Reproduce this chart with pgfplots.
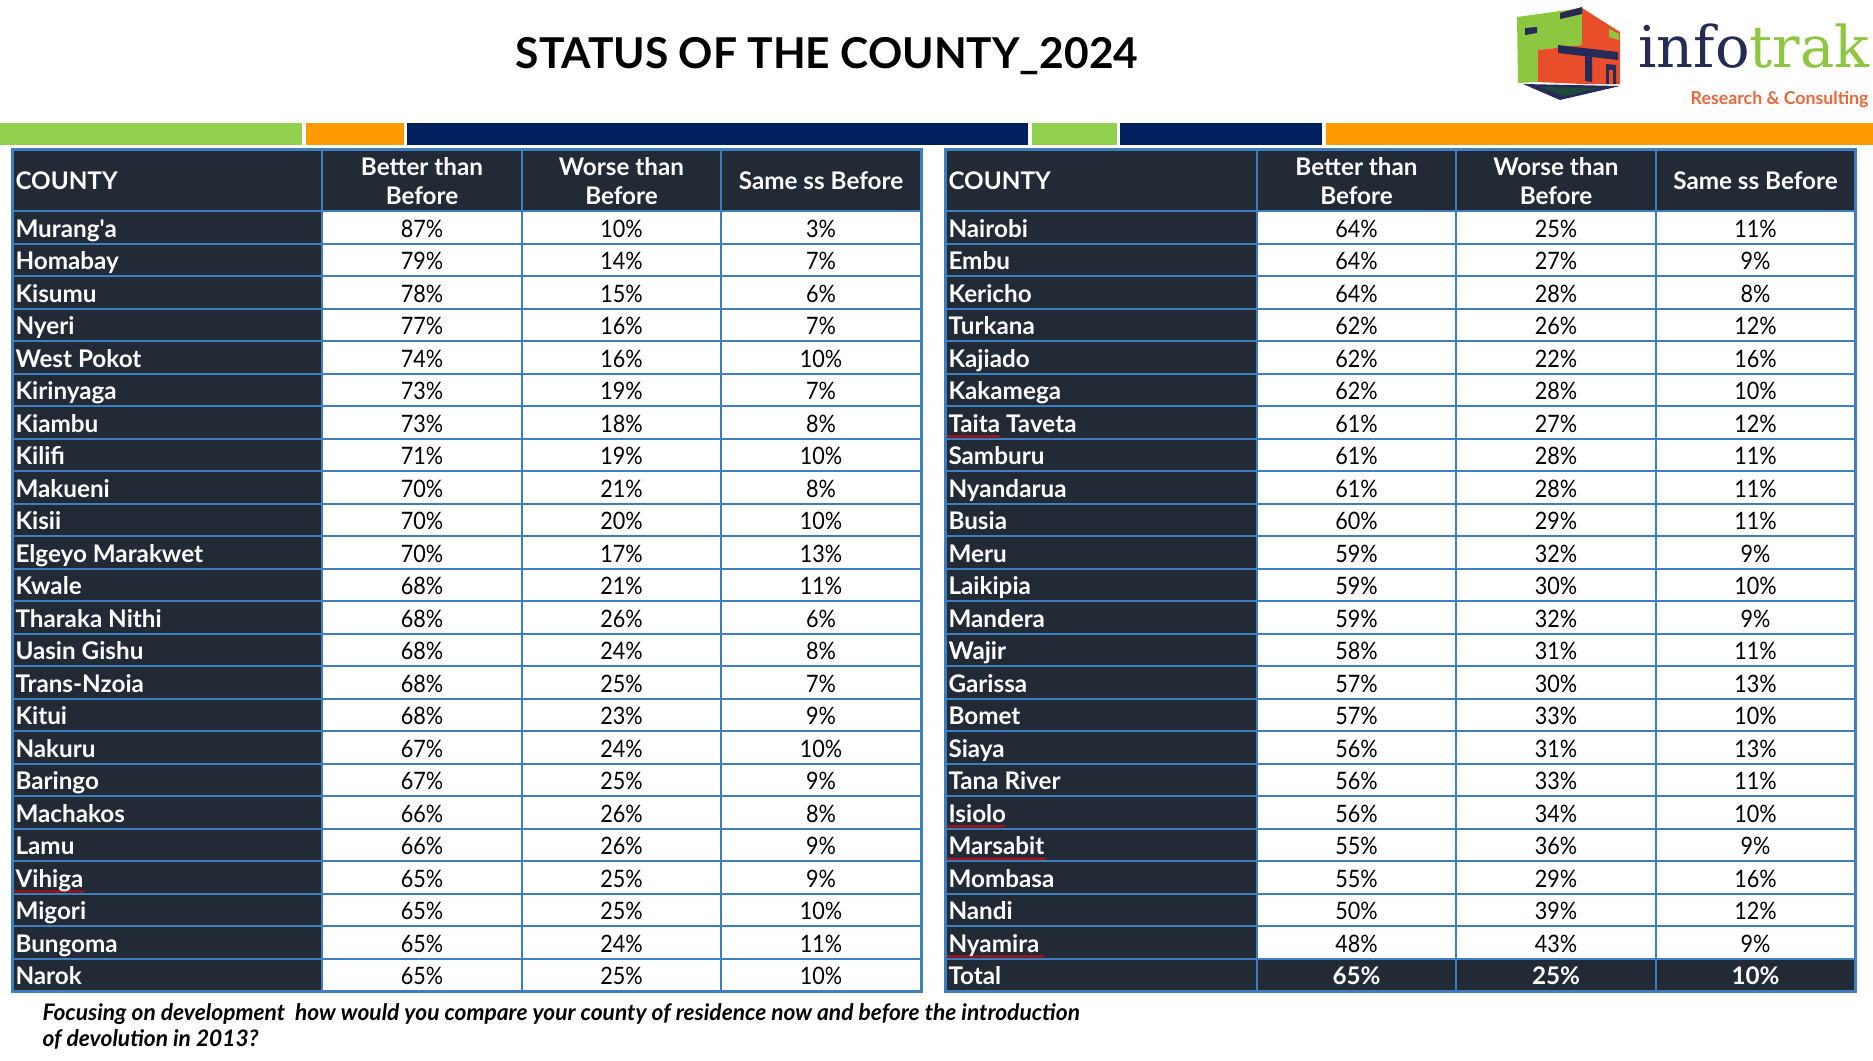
\documentclass[border=0pt]{standalone}
\usepackage{pgfplots}
\pgfplotsset{compat=1.18}
\usepackage{pgfplotstable}
\usetikzlibrary{decorations.pathmorphing}
\usepackage{fontspec}
\setmainfont{Lato}
\newfontfamily\numfont{Lato}[FakeStretch=0.9]
\newfontfamily\logofont{DejaVu Serif}

\definecolor{hdr}{HTML}{222A35}
\definecolor{gridc}{HTML}{3F7DC1}
\definecolor{bgreen}{HTML}{92D050}
\definecolor{borange}{HTML}{FF9900}
\definecolor{bnavy}{HTML}{002060}
\definecolor{lgreen}{HTML}{8DC63F}
\definecolor{lred}{HTML}{E94E2A}
\definecolor{lnavy}{HTML}{262A56}
\definecolor{ldkgreen}{HTML}{1F4A3A}
\definecolor{lorange}{HTML}{E8683C}

\pgfplotstableread[col sep=comma]{
county,better,worse,same
Murang\textquotesingle a,87,10,3
Homabay,79,14,7
Kisumu,78,15,6
Nyeri,77,16,7
West Pokot,74,16,10
Kirinyaga,73,19,7
Kiambu,73,18,8
Kilifi,71,19,10
Makueni,70,21,8
Kisii,70,20,10
Elgeyo Marakwet,70,17,13
Kwale,68,21,11
Tharaka Nithi,68,26,6
Uasin Gishu,68,24,8
Trans-Nzoia,68,25,7
Kitui,68,23,9
Nakuru,67,24,10
Baringo,67,25,9
Machakos,66,26,8
Lamu,66,26,9
Vihiga,65,25,9
Migori,65,25,10
Bungoma,65,24,11
Narok,65,25,10
}\lefttab

\pgfplotstableread[col sep=comma]{
county,better,worse,same
Nairobi,64,25,11
Embu,64,27,9
Kericho,64,28,8
Turkana,62,26,12
Kajiado,62,22,16
Kakamega,62,28,10
Taita Taveta,61,27,12
Samburu,61,28,11
Nyandarua,61,28,11
Busia,60,29,11
Meru,59,32,9
Laikipia,59,30,10
Mandera,59,32,9
Wajir,58,31,11
Garissa,57,30,13
Bomet,57,33,10
Siaya,56,31,13
Tana River,56,33,11
Isiolo,56,34,10
Marsabit,55,36,9
Mombasa,55,29,16
Nandi,50,39,12
Nyamira,48,43,9
}\righttab

\pgfplotstableread[col sep=comma]{
county,better,worse,same
Total,65,25,10
}\totaltab

\newcommand{\cellfont}{\numfont\fontsize{9.6}{11.6}\selectfont}
\newcommand{\boldfont}{\fontsize{9.7}{11.6}\selectfont\bfseries}

\pgfplotsset{
  txt/.style={only marks, mark=text, text mark={},
    point meta=explicit symbolic, nodes near coords,
    every node near coord/.append style={inner sep=0pt, font=\cellfont, text=black, anchor=base}},
  namecol/.style={txt, every node near coord/.append style={text=white, font=\boldfont, anchor=base west}},
  pct/.style={txt, nodes near coords={\pgfplotspointmeta\%}},
}

\begin{document}
\begin{tikzpicture}
\begin{axis}[width=749.2pt, height=424pt, scale only axis,
  xmin=0, xmax=1873, ymin=0, ymax=1060, y dir=reverse,
  hide axis, clip=false]

\fill[white] (axis cs:0,0) rectangle (axis cs:1873,1060);

% title
\node[anchor=base, font=\fontsize{17}{20}\selectfont\bfseries] at (axis cs:827,68) {STATUS OF THE COUNTY\_2024};

% colour bars
\fill[bgreen] (axis cs:0,123) rectangle (axis cs:302,145);
\fill[borange] (axis cs:306,123) rectangle (axis cs:404,145);
\fill[bnavy] (axis cs:407,123) rectangle (axis cs:1028,145);
\fill[bgreen] (axis cs:1032,123) rectangle (axis cs:1117,145);
\fill[bnavy] (axis cs:1120,123) rectangle (axis cs:1322,145);
\fill[borange] (axis cs:1326,123) rectangle (axis cs:1873,145);

% logo
\fill[lgreen] (axis cs:1517,17) -- (axis cs:1582,8) -- (axis cs:1582,45) -- (axis cs:1538,50) -- (axis cs:1538,82) -- (axis cs:1518,83) -- cycle;
\fill[lred] (axis cs:1582,8) -- (axis cs:1620,32) -- (axis cs:1620,84) -- (axis cs:1582,84) -- cycle;
\fill[lred] (axis cs:1538,50) -- (axis cs:1582,45) -- (axis cs:1582,84) -- (axis cs:1538,82) -- cycle;
\fill[lgreen] (axis cs:1609,29) -- (axis cs:1619,34) -- (axis cs:1619,40) -- (axis cs:1609,37) -- cycle;
\fill[lnavy] (axis cs:1560,13) -- (axis cs:1582,7) -- (axis cs:1582,14) -- (axis cs:1560,19) -- cycle;
\fill[lnavy] (axis cs:1525,28) -- (axis cs:1537,27) -- (axis cs:1537,33) -- (axis cs:1525,35) -- cycle;
\fill[lnavy] (axis cs:1558,45) -- (axis cs:1618,52) -- (axis cs:1618,60) -- (axis cs:1558,53) -- cycle;
\fill[lnavy] (axis cs:1585,56) -- (axis cs:1592,57) -- (axis cs:1592,82) -- (axis cs:1585,81) -- cycle;
\fill[lnavy] (axis cs:1606,64) -- (axis cs:1616,65) -- (axis cs:1616,84) -- (axis cs:1606,84) -- cycle;
\fill[lred] (axis cs:1609,70) -- (axis cs:1613,70) -- (axis cs:1613,84) -- (axis cs:1609,84) -- cycle;
\fill[lnavy] (axis cs:1523,84) -- (axis cs:1620,86) -- (axis cs:1560,100) -- cycle;
\fill[ldkgreen] (axis cs:1540,87) -- (axis cs:1600,88) -- (axis cs:1565,96) -- cycle;
\node[anchor=base west, inner sep=0pt, font=\logofont\fontsize{23}{26}\selectfont] at (axis cs:1638,67) {\textcolor{lnavy}{info}\textcolor{lgreen}{trak}};
\node[anchor=base east, inner sep=0pt, font=\fontsize{7.1}{8}\selectfont\bfseries, text=lorange] at (axis cs:1869,104) {Research \& Consulting};

% ---- left table frame
\fill[white] (axis cs:322,211) rectangle (axis cs:921,991);
\fill[hdr] (axis cs:12,149) rectangle (axis cs:921,211);
\fill[hdr] (axis cs:12,211) rectangle (axis cs:322,991);
\pgfplotsinvokeforeach{1,...,23}{\draw[gridc, line width=0.8pt] (axis cs:12,{211+32.5*#1}) -- (axis cs:921,{211+32.5*#1});}
\draw[gridc, line width=0.8pt] (axis cs:12,211) -- (axis cs:921,211);
\draw[gridc, line width=0.8pt] (axis cs:322,149) -- (axis cs:322,991);
\draw[gridc, line width=0.8pt] (axis cs:522,149) -- (axis cs:522,991);
\draw[gridc, line width=0.8pt] (axis cs:721,149) -- (axis cs:721,991);
\draw[gridc, line width=1.2pt] (axis cs:12,149) rectangle (axis cs:921,991);

% ---- right table frame
\fill[white] (axis cs:1257,211) rectangle (axis cs:1855,991);
\fill[hdr] (axis cs:945,149) rectangle (axis cs:1855,211);
\fill[hdr] (axis cs:945,211) rectangle (axis cs:1257,991);
\fill[hdr] (axis cs:945,958.5) rectangle (axis cs:1855,991);
\pgfplotsinvokeforeach{1,...,23}{\draw[gridc, line width=0.8pt] (axis cs:945,{211+32.5*#1}) -- (axis cs:1855,{211+32.5*#1});}
\draw[gridc, line width=0.8pt] (axis cs:945,211) -- (axis cs:1855,211);
\draw[gridc, line width=0.8pt] (axis cs:1257,149) -- (axis cs:1257,991);
\draw[gridc, line width=0.8pt] (axis cs:1456,149) -- (axis cs:1456,991);
\draw[gridc, line width=0.8pt] (axis cs:1656,149) -- (axis cs:1656,991);
\draw[gridc, line width=1.2pt] (axis cs:945,149) rectangle (axis cs:1855,991);

% headers
\node[anchor=west, inner sep=0pt, text=white, font=\boldfont] at (axis cs:15,181) {COUNTY};
\node[align=center, inner sep=0pt, text=white, font=\boldfont] at (axis cs:422,181) {Better than\\Before};
\node[align=center, inner sep=0pt, text=white, font=\boldfont] at (axis cs:621.5,181) {Worse than\\Before};
\node[align=center, inner sep=0pt, text=white, font=\boldfont] at (axis cs:821,181) {Same ss Before};
\node[anchor=west, inner sep=0pt, text=white, font=\boldfont] at (axis cs:948,181) {COUNTY};
\node[align=center, inner sep=0pt, text=white, font=\boldfont] at (axis cs:1356.5,181) {Better than\\Before};
\node[align=center, inner sep=0pt, text=white, font=\boldfont] at (axis cs:1556,181) {Worse than\\Before};
\node[align=center, inner sep=0pt, text=white, font=\boldfont] at (axis cs:1755.5,181) {Same ss Before};

% left table data
\addplot[namecol] table[x expr=15, y expr={211+32.5*(\coordindex+0.5)+10}, meta=county] {\lefttab};
\addplot[pct] table[x expr=422, y expr={211+32.5*(\coordindex+0.5)+10}, meta=better] {\lefttab};
\addplot[pct] table[x expr=621.5, y expr={211+32.5*(\coordindex+0.5)+10}, meta=worse] {\lefttab};
\addplot[pct] table[x expr=821, y expr={211+32.5*(\coordindex+0.5)+10}, meta=same] {\lefttab};

% right table data
\addplot[namecol] table[x expr=948, y expr={211+32.5*(\coordindex+0.5)+10}, meta=county] {\righttab};
\addplot[pct] table[x expr=1356.5, y expr={211+32.5*(\coordindex+0.5)+10}, meta=better] {\righttab};
\addplot[pct] table[x expr=1556, y expr={211+32.5*(\coordindex+0.5)+10}, meta=worse] {\righttab};
\addplot[pct] table[x expr=1755.5, y expr={211+32.5*(\coordindex+0.5)+10}, meta=same] {\righttab};

% total row
\addplot[namecol] table[x expr=948, y expr={211+32.5*23.5+10}, meta=county] {\totaltab};
\addplot[pct, every node near coord/.append style={text=white, font=\boldfont}] table[x expr=1356.5, y expr={211+32.5*23.5+10}, meta=better] {\totaltab};
\addplot[pct, every node near coord/.append style={text=white, font=\boldfont}] table[x expr=1556, y expr={211+32.5*23.5+10}, meta=worse] {\totaltab};
\addplot[pct, every node near coord/.append style={text=white, font=\boldfont}] table[x expr=1755.5, y expr={211+32.5*23.5+10}, meta=same] {\totaltab};

% spell-check underlines
\draw[red, line width=0.35pt, decorate, decoration={snake, amplitude=0.35pt, segment length=1.6pt}] (axis cs:14,{211+32.5*20.5+14}) -- (axis cs:84,{211+32.5*20.5+14});
\draw[red, line width=0.35pt, decorate, decoration={snake, amplitude=0.35pt, segment length=1.6pt}] (axis cs:947,{211+32.5*6.5+14}) -- (axis cs:1001,{211+32.5*6.5+14});
\draw[red, line width=0.35pt, decorate, decoration={snake, amplitude=0.35pt, segment length=1.6pt}] (axis cs:947,{211+32.5*18.5+14}) -- (axis cs:1006,{211+32.5*18.5+14});
\draw[red, line width=0.35pt, decorate, decoration={snake, amplitude=0.35pt, segment length=1.6pt}] (axis cs:947,{211+32.5*19.5+14}) -- (axis cs:1046,{211+32.5*19.5+14});
\draw[red, line width=0.35pt, decorate, decoration={snake, amplitude=0.35pt, segment length=1.6pt}] (axis cs:947,{211+32.5*22.5+14}) -- (axis cs:1044,{211+32.5*22.5+14});

% footnote
\node[anchor=base west, inner sep=0pt, font=\fontsize{9.1}{11}\selectfont\bfseries\itshape] at (axis cs:42,1020) {Focusing on development\ \ how would you compare your county of residence now and before the introduction};
\node[anchor=base west, inner sep=0pt, font=\fontsize{9.1}{11}\selectfont\bfseries\itshape] at (axis cs:42,1046) {of devolution in 2013?};

\end{axis}
\end{tikzpicture}
\end{document}
